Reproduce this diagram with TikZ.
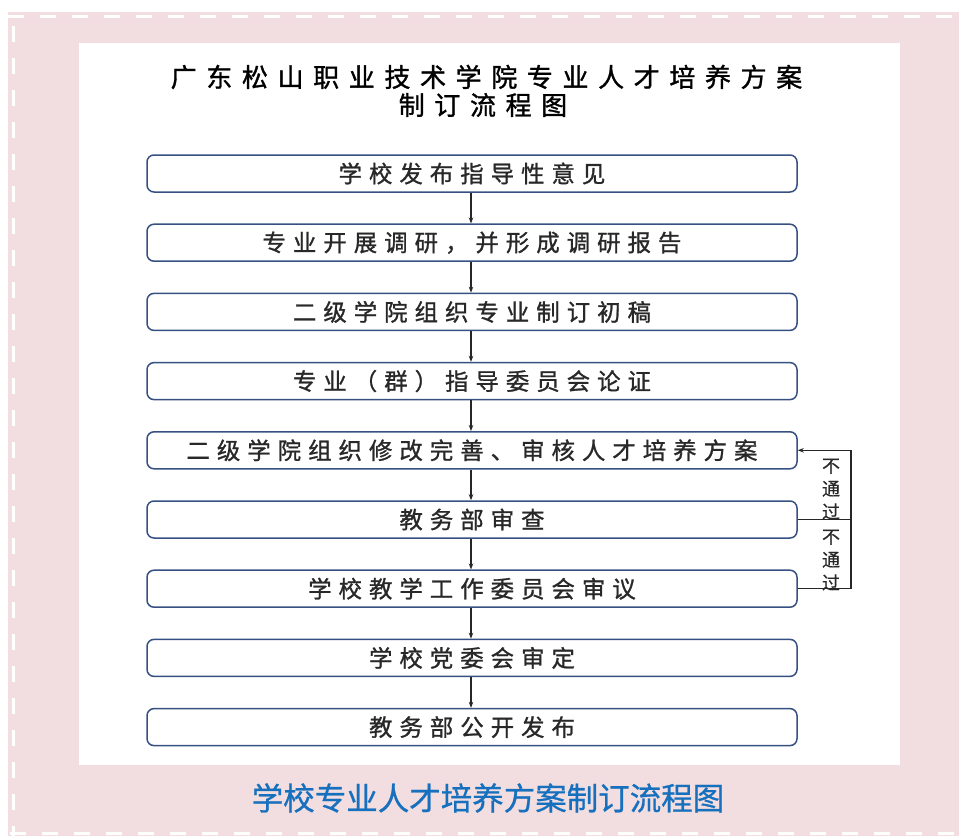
\documentclass[tikz,border=0pt]{standalone}
\usepackage{fontspec}
\setmainfont{Noto Sans CJK SC}
\newfontfamily\titlefont[LetterSpace=37,FakeBold=1.2]{Noto Sans CJK SC}
\newfontfamily\boxfont[LetterSpace=30,FakeBold=1.1]{Noto Sans CJK SC}
\newfontfamily\capfont[FakeBold=0.8]{Noto Sans CJK SC}
\newfontfamily\lblfont[FakeBold=0.5]{Noto Sans CJK SC}
\usetikzlibrary{arrows.meta}
\definecolor{pinkbg}{RGB}{242,222,224}
\definecolor{boxline}{RGB}{55,80,130}
\definecolor{capblue}{RGB}{22,112,190}
\definecolor{txt}{RGB}{40,40,40}
\begin{document}
\begin{tikzpicture}[x=1pt,y=-1pt,
  stepbox/.style={draw=boxline, line width=1.5pt, rounded corners=7pt,
    minimum width=650pt, minimum height=37pt, inner sep=0pt, fill=white,
    font=\boxfont\fontsize{23.4}{23.4}\selectfont, text=txt},
  flow/.style={draw=black!85, line width=1.1pt, -{Stealth[length=6pt,width=4.5pt]}},
  fbline/.style={draw=black!85, line width=1.1pt},
  lbl/.style={font=\lblfont\fontsize{18}{23}\selectfont, align=center, text=txt, inner sep=0pt}
]
\useasboundingbox (0,0) rectangle (959,836);
\fill[white] (0,0) rectangle (959,836);
\fill[pinkbg] (8,12) rectangle (959,836);
\draw[white, line width=3pt, dash pattern=on 16pt off 16pt] (8,16.5) -- (959,16.5);
\draw[white, line width=3pt, dash pattern=on 16pt off 16pt] (13.5,26) -- (13.5,836);
\draw[white, line width=3pt, dash pattern=on 16pt off 16pt] (10,833.5) -- (959,833.5);
\fill[white] (79,43) rectangle (900,765);

\node[font=\titlefont\fontsize{26}{26}\selectfont, inner sep=0pt] (t1) at (486.5,77) {广东松山职业技术学院专业人才培养方案};
\node[font=\titlefont\fontsize{26}{26}\selectfont, inner sep=0pt] (t2) at (483,105) {制订流程图};

\node[stepbox] (b1) at (472,173.5) {学校发布指导性意见};
\node[stepbox] (b2) at (472,242.7) {专业开展调研，并形成调研报告};
\node[stepbox] (b3) at (472,311.9) {二级学院组织专业制订初稿};
\node[stepbox] (b4) at (472,381.1) {专业（群）指导委员会论证};
\node[stepbox] (b5) at (472,450.3) {二级学院组织修改完善、审核人才培养方案};
\node[stepbox] (b6) at (472,519.5) {教务部审查};
\node[stepbox] (b7) at (472,588.7) {学校教学工作委员会审议};
\node[stepbox] (b8) at (472,657.9) {学校党委会审定};
\node[stepbox] (b9) at (472,727.1) {教务部公开发布};

\foreach \a/\b in {b1/b2,b2/b3,b3/b4,b4/b5,b5/b6,b6/b7,b7/b8,b8/b9}
  \draw[flow] ([xshift=-1pt]\a.south) -- ([xshift=-1pt]\b.north);

\coordinate (fb) at (851,450.3);
\draw[fbline, -{Stealth[length=6pt,width=4.5pt]}] (b7.east) -| (fb) -- (b5.east);
\draw[fbline] (b6.east) -- (b6.east -| fb);

\node[lbl] (n1) at (831,489) {不\\通\\过};
\node[lbl] (n2) at (831,560) {不\\通\\过};

\node[font=\capfont\fontsize{31.5}{31.5}\selectfont, text=capblue, inner sep=0pt] (cap) at (488,798) {学校专业人才培养方案制订流程图};
\end{tikzpicture}
\end{document}
